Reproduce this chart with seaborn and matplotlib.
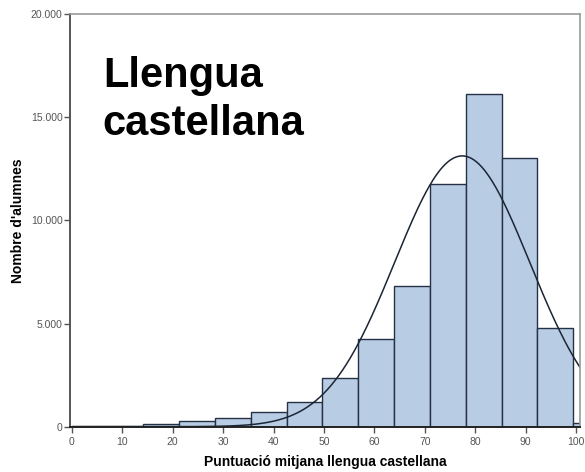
import numpy as np
import pandas as pd
import seaborn as sns
import matplotlib.pyplot as plt
from matplotlib.ticker import FuncFormatter

# Histogram counts (bin width 7.1, starting at 0)
bin_width = 7.1
bin_start = 0.0
counts = [10, 20, 145, 260, 420, 700, 1185, 2370, 4260, 6830, 11790, 16110, 13020, 4800, 190]

# Normal curve overlay (fitted mean / sd as shown)
curve_mean = 77.4
curve_sd = 13.4

x_ticks = [0, 10, 20, 30, 40, 50, 60, 70, 80, 90, 100]
y_ticks = [0, 5000, 10000, 15000, 20000]
title_lines = ["Llengua", "castellana"]

edges = bin_start + bin_width * np.arange(len(counts) + 1)
centers = (edges[:-1] + edges[1:]) / 2
df = pd.DataFrame({"score": centers, "n": counts})

sns.set_style("white")
plt.rcParams['font.family'] = ['Liberation Sans', 'DejaVu Sans']

fig, ax = plt.subplots(figsize=(5.85, 4.72), dpi=100)
fig.subplots_adjust(left=0.12, right=0.991, top=0.97, bottom=0.096)

sns.histplot(data=df, x="score", weights="n", binwidth=bin_width, binrange=(edges[0], edges[-1]),
             ax=ax, color="#b8cce4", alpha=1, edgecolor="#253245", linewidth=1.0)

total = sum(counts)
xs = np.linspace(0, 101, 400)
ys = total * bin_width / (curve_sd * np.sqrt(2 * np.pi)) * np.exp(-0.5 * ((xs - curve_mean) / curve_sd) ** 2)
sns.lineplot(x=xs, y=ys, ax=ax, color="#1c2535", linewidth=1.1)

ax.set_xlim(-0.3, 100.7)
ax.set_ylim(0, 20000)
ax.set_xticks(x_ticks)
ax.set_yticks(y_ticks)
ax.yaxis.set_major_formatter(FuncFormatter(lambda v, p: f"{v:,.0f}".replace(",", ".")))
ax.tick_params(axis="both", direction="out", length=4, width=1, colors="#555555",
               labelsize=7.5, labelcolor="#555555", left=True, bottom=True)
ax.tick_params(axis="y", pad=1.5)

for side in ["top", "right"]:
    ax.spines[side].set_color("#999999")
    ax.spines[side].set_linewidth(1.2)
ax.spines["left"].set_color("#555555")
ax.spines["left"].set_linewidth(1.4)
ax.spines["bottom"].set_color("#222222")
ax.spines["bottom"].set_linewidth(1.4)

ax.set_xlabel("Puntuació mitjana llengua castellana", fontsize=10, fontweight="bold",
              labelpad=6, color="black")
ax.set_ylabel("Nombre d'alumnes", fontsize=10, fontweight="bold", labelpad=4, color="black")

ax.text(0.064, 0.824, title_lines[0], transform=ax.transAxes, fontsize=30,
        fontweight="bold", va="baseline", ha="left", color="black")
ax.text(0.064, 0.707, title_lines[1], transform=ax.transAxes, fontsize=30,
        fontweight="bold", va="baseline", ha="left", color="black")

fig.savefig("out.png", dpi=100)
